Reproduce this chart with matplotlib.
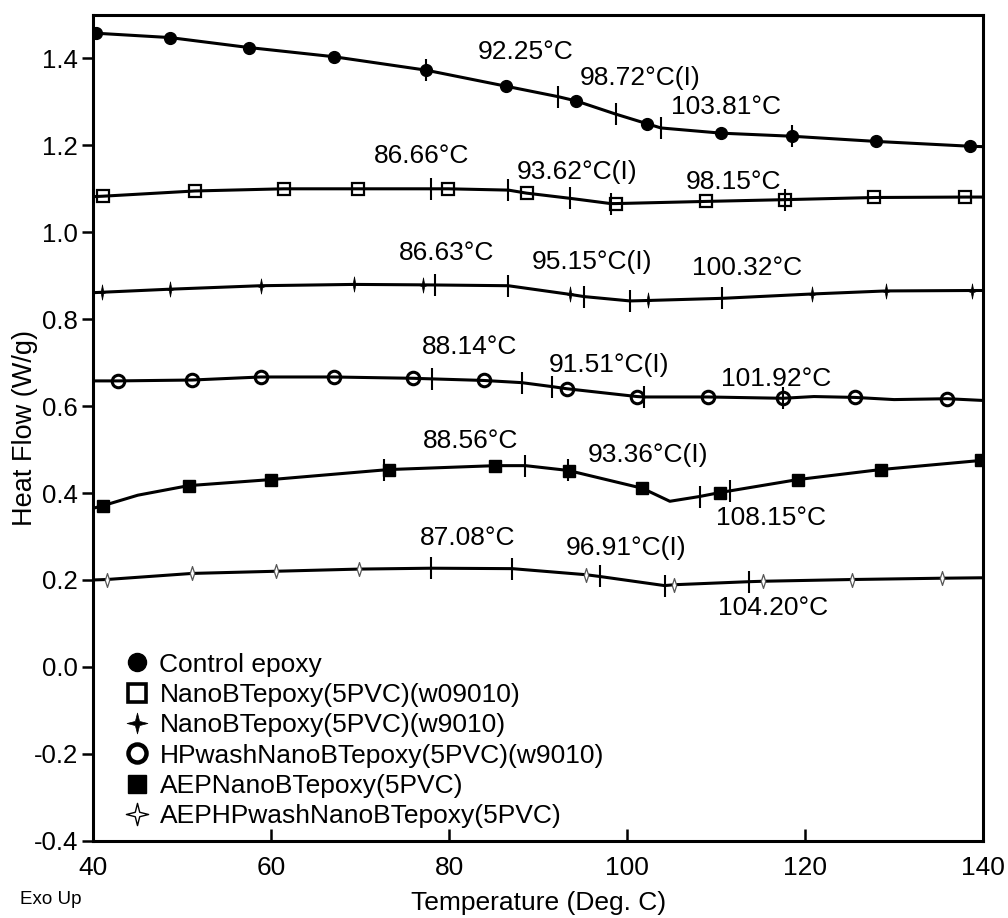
import numpy as np
import matplotlib
matplotlib.use("Agg")
import matplotlib.pyplot as plt
from matplotlib.path import Path
from matplotlib.lines import Line2D

plt.rcParams['font.family'] = ['Liberation Sans', 'DejaVu Sans']

# ---------------- data (temperature in deg C, heat flow in W/g) ----------------
control_T = [40, 40.3, 48.6, 57.5, 67.0, 77.4, 86.4, 92.25, 94.3, 98.7, 102.2, 103.8, 110.6, 118.5, 128.0, 138.5, 140]
control_Q = [1.458, 1.458, 1.448, 1.425, 1.404, 1.373, 1.336, 1.312, 1.302, 1.272, 1.250, 1.240, 1.228, 1.221, 1.209, 1.198, 1.197]
control_mk = [40.3, 48.6, 57.5, 67.0, 77.4, 86.4, 94.3, 102.2, 110.6, 118.5, 128.0, 138.5]
control_tg = [77.4, 92.25, 98.72, 103.81, 118.5]

w09010_T = [40, 41.1, 51.4, 61.4, 69.7, 79.9, 86.66, 88.7, 93.62, 98.15, 98.7, 108.9, 117.7, 127.8, 138.0, 140]
w09010_Q = [1.082, 1.083, 1.095, 1.100, 1.100, 1.100, 1.097, 1.090, 1.078, 1.066, 1.066, 1.071, 1.075, 1.080, 1.081, 1.081]
w09010_mk = [41.1, 51.4, 61.4, 69.7, 79.9, 88.7, 98.7, 108.9, 117.7, 127.8, 138.0]
w09010_tg = [77.9, 86.66, 93.62, 98.15, 117.7]

w9010_T = [40, 41.0, 48.6, 58.8, 69.3, 77.0, 86.63, 93.6, 95.15, 100.32, 102.3, 110.7, 120.8, 129.1, 138.8, 140]
w9010_Q = [0.861, 0.862, 0.869, 0.877, 0.880, 0.879, 0.877, 0.857, 0.852, 0.842, 0.843, 0.848, 0.858, 0.865, 0.866, 0.866]
w9010_mk = [41.0, 48.6, 58.8, 69.3, 77.0, 93.6, 102.3, 120.8, 129.1, 138.8]
w9010_tg = [78.4, 86.63, 95.15, 100.32, 110.7]

hpwash_T = [40, 42.8, 51.1, 58.8, 67.0, 75.9, 83.9, 88.14, 91.51, 93.2, 101.1, 101.92, 109.1, 117.5, 121, 125.6, 130, 136.0, 140]
hpwash_Q = [0.658, 0.658, 0.660, 0.667, 0.667, 0.664, 0.659, 0.654, 0.645, 0.640, 0.622, 0.621, 0.621, 0.618, 0.622, 0.620, 0.615, 0.617, 0.613]
hpwash_mk = [42.8, 51.1, 58.8, 67.0, 75.9, 83.9, 93.2, 101.1, 109.1, 117.5, 125.6, 136.0]
hpwash_tg = [78.1, 88.14, 91.51, 101.92, 117.5]

aep_T = [40, 41.1, 45, 50.7, 60.0, 73.2, 85.2, 88.56, 93.36, 101.7, 104.8, 108.15, 110.4, 119.2, 128.5, 139.8, 140]
aep_Q = [0.365, 0.371, 0.395, 0.417, 0.431, 0.454, 0.463, 0.463, 0.452, 0.411, 0.381, 0.392, 0.401, 0.431, 0.454, 0.475, 0.475]
aep_mk = [41.1, 50.7, 60.0, 73.2, 85.2, 93.5, 101.7, 110.4, 119.2, 128.5, 139.8]
aep_tg = [72.7, 88.56, 93.36, 108.15, 111.6]

aephp_T = [40, 41.5, 51.1, 60.5, 69.9, 78.0, 87.08, 95.4, 96.91, 104.2, 105.3, 113.7, 115.3, 125.3, 135.4, 140]
aephp_Q = [0.200, 0.201, 0.215, 0.220, 0.225, 0.227, 0.226, 0.212, 0.208, 0.187, 0.189, 0.196, 0.197, 0.201, 0.204, 0.205]
aephp_mk = [41.5, 51.1, 60.5, 69.9, 95.4, 105.3, 115.3, 125.3, 135.4]
aephp_tg = [78.0, 87.08, 96.91, 104.2, 113.7]

series_names = ["Control epoxy", "NanoBTepoxy(5PVC)(w09010)", "NanoBTepoxy(5PVC)(w9010)",
                "HPwashNanoBTepoxy(5PVC)(w9010)", "AEPNanoBTepoxy(5PVC)", "AEPHPwashNanoBTepoxy(5PVC)"]

# transition annotations: (text, T position, heat-flow position)
ann_text = ["92.25°C", "98.72°C(I)", "103.81°C",
            "86.66°C", "93.62°C(I)", "98.15°C",
            "86.63°C", "95.15°C(I)", "100.32°C",
            "88.14°C", "91.51°C(I)", "101.92°C",
            "88.56°C", "93.36°C(I)", "108.15°C",
            "87.08°C", "96.91°C(I)", "104.20°C"]
ann_T = [88.6, 101.5, 111.1,
         76.9, 94.4, 111.9,
         79.7, 96.1, 113.5,
         82.3, 98.0, 116.7,
         82.4, 102.3, 116.2,
         82.1, 99.9, 116.4]
ann_Q = [1.415, 1.354, 1.289,
         1.176, 1.139, 1.115,
         0.952, 0.932, 0.917,
         0.737, 0.695, 0.663,
         0.519, 0.488, 0.343,
         0.297, 0.274, 0.136]

x_ticks = [40, 60, 80, 100, 120, 140]
y_ticks = [-0.4, -0.2, 0.0, 0.2, 0.4, 0.6, 0.8, 1.0, 1.2, 1.4]

# ---------------- marker shapes ----------------
def closed(verts):
    return Path(verts + [verts[0]], [Path.MOVETO] + [Path.LINETO] * (len(verts) - 1) + [Path.CLOSEPOLY])

star_narrow = closed([(0, 1), (0.15, 0.15), (0.55, 0), (0.15, -0.15), (0, -1),
                      (-0.15, -0.15), (-0.55, 0), (-0.15, 0.15)])
star_wide = closed([(0, 1), (0.2, 0.2), (1, 0), (0.2, -0.2), (0, -1),
                    (-0.2, -0.2), (-1, 0), (-0.2, 0.2)])
thin_diamond = closed([(0, 1), (0.32, 0), (0, -1), (-0.32, 0)])

# ---------------- figure ----------------
fig = plt.figure(figsize=(10.08, 9.18), dpi=100)
ax = fig.add_axes([0.0926, 0.0842, 0.8826, 0.8995])

line_kw = dict(color='black', lw=2.2, zorder=2)

styles = [
    dict(marker='o', ms=8.5, mfc='black', mec='black', mew=1.0),
    dict(marker='s', ms=9, mfc='none', mec='black', mew=1.6),
    dict(marker=star_narrow, ms=11, mfc='black', mec='black', mew=0.5),
    dict(marker='o', ms=9, mfc='none', mec='black', mew=2.2),
    dict(marker='s', ms=9, mfc='black', mec='black', mew=1.0),
    dict(marker=thin_diamond, ms=10, mfc='white', mec='#555555', mew=0.9),
]

all_series = [
    (control_T, control_Q, control_mk, control_tg),
    (w09010_T, w09010_Q, w09010_mk, w09010_tg),
    (w9010_T, w9010_Q, w9010_mk, w9010_tg),
    (hpwash_T, hpwash_Q, hpwash_mk, hpwash_tg),
    (aep_T, aep_Q, aep_mk, aep_tg),
    (aephp_T, aephp_Q, aephp_mk, aephp_tg),
]

for (T, Q, mk, tg), st in zip(all_series, styles):
    ax.plot(T, Q, **line_kw)
    ax.plot(mk, np.interp(mk, T, Q), ls='none', zorder=3, **st)
    ax.plot(tg, np.interp(tg, T, Q), ls='none', marker='|', ms=16, mew=1.5,
            color='black', zorder=4)

for s, t, q in zip(ann_text, ann_T, ann_Q):
    ax.text(t, q, s, ha='center', va='center', fontsize=19)

# legend
legend_styles = [
    dict(marker='o', ms=13, mfc='black', mec='black', mew=1.0),
    dict(marker='s', ms=13, mfc='white', mec='black', mew=2.6),
    dict(marker=star_wide, ms=15, mfc='black', mec='black', mew=0.5),
    dict(marker='o', ms=13, mfc='white', mec='black', mew=3.2),
    dict(marker='s', ms=13, mfc='black', mec='black', mew=1.0),
    dict(marker=star_wide, ms=16, mfc='white', mec='black', mew=1.0),
]
handles = [Line2D([], [], ls='none', **st) for st in legend_styles]
leg = ax.legend(handles, series_names, loc='lower left', bbox_to_anchor=(0.018, -0.004),
                frameon=False, fontsize=19, handlelength=0.9, handletextpad=0.4,
                labelspacing=0.24, borderaxespad=0.2)

# axes styling
ax.set_xlim(40, 140)
ax.set_ylim(-0.4, 1.5)
ax.set_xticks(x_ticks)
ax.set_yticks(y_ticks)
ax.set_xticklabels([str(v) for v in x_ticks])
ax.set_yticklabels([f"{v:.1f}" for v in y_ticks])
ax.tick_params(axis='x', direction='in', length=9, width=1.8, labelsize=19, pad=11)
ax.tick_params(axis='y', direction='out', length=8, width=1.8, labelsize=18.5, pad=3)
for sp in ax.spines.values():
    sp.set_linewidth(2.2)

ax.set_xlabel("Temperature (Deg. C)", fontsize=19, labelpad=8)
ax.set_ylabel("Heat Flow (W/g)", fontsize=19.5)
ax.yaxis.set_label_coords(-0.062, 0.5)

fig.text(20 / 1008, 1 - 899 / 918, "Exo Up", fontsize=13.5, ha='left', va='center')

fig.savefig("out.png", dpi=100, facecolor='white')
